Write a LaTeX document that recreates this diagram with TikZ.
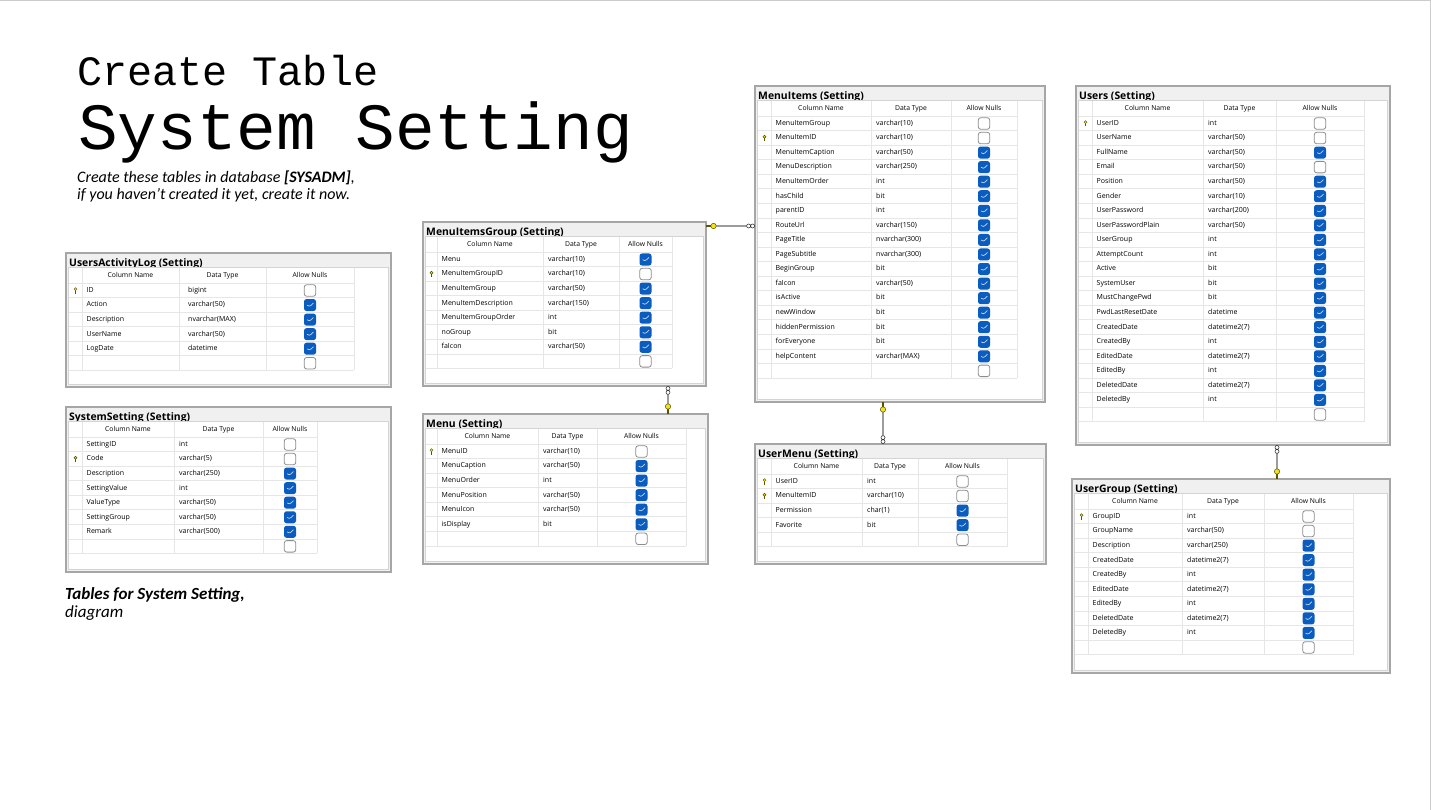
\documentclass[tikz,border=0pt]{standalone}
\usepackage{fontspec}
\setmainfont{Open Sans}
\newfontfamily\monofont{Liberation Mono}
\newfontfamily\calfont{Carlito}
\usetikzlibrary{calc}
\definecolor{frameC}{HTML}{A6A6A6}
\definecolor{titleBg}{HTML}{F0F0F0}
\definecolor{panelC}{HTML}{D4D4D4}
\definecolor{gridC}{HTML}{E6E6E6}
\definecolor{chkBlue}{HTML}{0B5CBF}
\definecolor{boxGray}{HTML}{8C8C8C}
\definecolor{keyY}{HTML}{F2E21B}
\definecolor{keyD}{HTML}{5A5300}
\definecolor{lineC}{HTML}{9C9C9C}
\tikzset{
  tblframe/.style={rectangle, draw=frameC, fill=titleBg, line width=1.4pt, inner sep=0pt, outer sep=0pt},
  tbltitle/.style={font=\bfseries\fontsize{10.4}{12}\selectfont, inner sep=0pt},
  gridline/.style={draw=gridC, line width=0.6pt},
  hdr/.style={font=\fontsize{6.8}{8}\selectfont, inner sep=0pt, text height=5.2pt, text depth=1.5pt},
  cell/.style={font=\fontsize{7}{8}\selectfont, inner sep=0pt, text height=5.3pt, text depth=1.6pt},
  chkon/.style={rectangle, rounded corners=2.5pt, minimum size=12pt, inner sep=0pt, fill=chkBlue,
    path picture={\draw[white!75!chkBlue, line width=0.7pt] ([shift={(-2.8,0.1)}]path picture bounding box.center) -- ++(2,2) -- ++(4.2,-4.2);}},
  chkoff/.style={rectangle, rounded corners=2.5pt, minimum size=11.5pt, inner sep=0pt, fill=white, draw=boxGray, line width=0.8pt},
  rel/.style={draw=lineC, line width=1.6pt},
  subtxt/.style={font=\calfont\itshape\fontsize{16}{19}\selectfont, anchor=base west, inner sep=0pt},
  captxt/.style={font=\calfont\itshape\fontsize{17}{19}\selectfont, anchor=base west, inner sep=0pt},
  rowkey/.pic={\filldraw[fill=keyY, draw=keyD, line width=0.4pt] (0,-1.3) circle (1.5); \draw[keyD, line width=0.7pt] (0,0.2) -- (0,3);},
  keyend/.pic={\draw[keyD, line width=1.3pt] (0,0) -- (5,0); \filldraw[fill=keyY, draw=keyD, line width=0.5pt] (7.5,0) circle (2.7);},
  manyend/.pic={\filldraw[fill=white, draw=black!80, line width=0.55pt] (2.4,0) circle (2) (6.4,0) circle (2);}
}
\newcommand\tabframe[6]{%
  \gdef\tid{#1}\gdef\tL{#2}\gdef\tT{#3}\gdef\tR{#4}\gdef\tB{#5}%
  \node[tblframe, minimum width={(#4-#2)*1pt}, minimum height={(#5-#3)*1pt}] (#1) at ({(#2+#4)/2},{(#3+#5)/2}) {};
  \node[tbltitle, anchor=base west] (#1-title) at ({#2+3},{#3+13.2}) {#6};
  \draw[fill=white, draw=panelC, line width=0.6pt] ({#2+2.5},{#3+14.5}) rectangle ({#4-2.5},{#5-2.5});
}
\newcommand\tabgrid[6]{%
  \gdef\cA{#1}\gdef\cB{#2}\gdef\cC{#3}\gdef\cD{#4}\gdef\tOff{#6}%
  \pgfmathsetmacro\gbot{\tT+30+(#5+1)*14.55}%
  \pgfmathtruncatemacro\nn{#5+1}%
  \foreach \xx in {#1,#2,#3,#4} {\draw[gridline] (\xx,{\tT+15}) -- (\xx,\gbot);}
  \foreach \ii in {0,...,\nn} {\draw[gridline] ({\tL+3},{\tT+30+\ii*14.55}) -- (#4,{\tT+30+\ii*14.55});}
  \node[hdr] (\tid-h1) at ({(#1+#2)/2},{\tT+22.5}) {Column Name};
  \node[hdr] (\tid-h2) at ({(#2+#3)/2},{\tT+22.5}) {Data Type};
  \node[hdr] (\tid-h3) at ({(#3+#4)/2},{\tT+22.5}) {Allow Nulls};
  \node[chkoff] (\tid-ce) at ({(#3+#4)/2},{\tT+37.5+#5*14.55}) {};
}
\newcommand\tabrows[1]{%
  \foreach \nm/\ty/\ck/\ky [count=\ii from 0] in {#1} {
    \pgfmathsetmacro\yy{\tT+37.5+\ii*14.55}
    \node[cell, anchor=west] (\tid-n\ii) at ({\cA+4.5},\yy) {\nm};
    \node[cell, anchor=west] (\tid-t\ii) at ({\cB+\tOff},\yy) {\ty};
    \ifnum\ck=1 \node[chkon] (\tid-c\ii) at ({(\cC+\cD)/2},\yy) {};
    \else \node[chkoff] (\tid-c\ii) at ({(\cC+\cD)/2},\yy) {}; \fi
    \ifnum\ky=1 \pic at ({(\tL+3+\cA)/2},\yy) {rowkey}; \fi
  }
}
\begin{document}
\begin{tikzpicture}[x=1pt, y=-1pt]
\fill[white] (0,0) rectangle (1431,810);
\useasboundingbox (0,0) rectangle (1431,810);
\draw[black!20, line width=0.8pt] (0,0.5) -- (1430.5,0.5) -- (1430.5,810);

% titles
\node[font=\monofont\fontsize{41.8}{42}\selectfont, anchor=base west, inner sep=0pt] (t1) at (77,86) {Create Table};
\node[font=\monofont\fontsize{66}{66}\selectfont, anchor=base west, inner sep=0pt] (t2) at (78,150) {System Setting};
\node[subtxt] (t3) at (77,183) {Create these tables in database \textbf{[SYSADM]},};
\node[subtxt] (t4) at (77,200) {if you haven’t created it yet, create it now.};
\node[captxt] (cap1) at (65,599) {\textbf{Tables for System Setting,}};
\node[captxt] (cap2) at (65,617) {diagram};

% UsersActivityLog
\tabframe{ual}{66}{253}{391}{387}{UsersActivityLog (Setting)}
\tabgrid{82}{179}{266}{354}{5}{9}
\tabrows{ID/bigint/0/1, Action/varchar(50)/1/0, Description/nvarchar(MAX)/1/0, UserName/varchar(50)/1/0, LogDate/datetime/1/0}

% SystemSetting
\tabframe{ss}{66}{407}{391}{572}{SystemSetting (Setting)}
\tabgrid{82}{174}{263}{317}{7}{5}
\tabrows{SettingID/int/0/0, Code/varchar(5)/0/1, Description/varchar(250)/1/0, SettingValue/int/1/0, ValueType/varchar(50)/1/0, SettingGroup/varchar(50)/1/0, Remark/varchar(500)/1/0}

% MenuItemsGroup
\tabframe{mig}{423}{222}{706}{386}{MenuItemsGroup (Setting)}
\tabgrid{437}{543}{619}{672}{7}{5}
\tabrows{Menu/varchar(10)/1/0, MenuItemGroupID/varchar(10)/0/1, MenuItemGroup/varchar(50)/1/0, MenuItemDescription/varchar(150)/1/0, MenuItemGroupOrder/int/1/0, noGroup/bit/1/0, faIcon/varchar(50)/1/0}

% Menu
\tabframe{menu}{423}{414}{708}{564}{Menu (Setting)}
\tabgrid{437}{538}{597}{686}{6}{5}
\tabrows{MenuID/varchar(10)/0/1, MenuCaption/varchar(50)/1/0, MenuOrder/int/1/0, MenuPosition/varchar(50)/1/0, MenuIcon/varchar(50)/1/0, isDisplay/bit/1/0}

% MenuItems
\tabframe{mi}{755}{86}{1045}{402}{MenuItems (Setting)}
\tabgrid{771}{871}{951}{1017}{17}{5}
\tabrows{MenuItemGroup/varchar(10)/0/0, MenuItemID/varchar(10)/0/1, MenuItemCaption/varchar(50)/1/0, MenuDescription/varchar(250)/1/0, MenuItemOrder/int/1/0, hasChild/bit/1/0, parentID/int/1/0, RouteUrl/varchar(150)/1/0, PageTitle/nvarchar(300)/1/0, PageSubtitle/nvarchar(300)/1/0, BeginGroup/bit/1/0, faIcon/varchar(50)/1/0, isActive/bit/1/0, newWindow/bit/1/0, hiddenPermission/bit/1/0, forEveryone/bit/1/0, helpContent/varchar(MAX)/1/0}

% UserMenu
\tabframe{um}{755}{444}{1046}{564}{UserMenu (Setting)}
\tabgrid{771}{862}{918}{1007}{4}{5}
\tabrows{UserID/int/0/1, MenuItemID/varchar(10)/0/1, Permission/char(1)/1/0, Favorite/bit/1/0}

% Users
\tabframe{users}{1076}{86}{1390}{445}{Users (Setting)}
\tabgrid{1092}{1203}{1276}{1364}{20}{5}
\tabrows{UserID/int/0/1, UserName/varchar(50)/0/0, FullName/varchar(50)/1/0, Email/varchar(50)/0/0, Position/varchar(50)/1/0, Gender/varchar(10)/1/0, UserPassword/varchar(200)/1/0, UserPasswordPlain/varchar(50)/1/0, UserGroup/int/1/0, AttemptCount/int/1/0, Active/bit/1/0, SystemUser/bit/1/0, MustChangePwd/bit/1/0, PwdLastResetDate/datetime/1/0, CreatedDate/datetime2(7)/1/0, CreatedBy/int/1/0, EditedDate/datetime2(7)/1/0, EditedBy/int/1/0, DeletedDate/datetime2(7)/1/0, DeletedBy/int/1/0}

% UserGroup
\tabframe{ug}{1072}{479}{1390}{673}{UserGroup (Setting)}
\tabgrid{1088}{1182}{1264}{1353}{9}{5}
\tabrows{GroupID/int/0/1, GroupName/varchar(50)/0/0, Description/varchar(250)/1/0, CreatedDate/datetime2(7)/1/0, CreatedBy/int/1/0, EditedDate/datetime2(7)/1/0, EditedBy/int/1/0, DeletedDate/datetime2(7)/1/0, DeletedBy/int/1/0}

% relationships
\coordinate (r1) at (0,226);
\coordinate (r2) at (668,0);
\coordinate (r3) at (883,0);
\coordinate (r4) at (1277,0);
\draw[rel] (mig.east |- r1) -- (mi.west |- r1);
\pic at (mig.east |- r1) {keyend};
\pic[rotate=180] at (mi.west |- r1) {manyend};
\draw[rel] (mig.south -| r2) -- (menu.north -| r2);
\pic[rotate=-90] at (mig.south -| r2) {manyend};
\pic[rotate=90] at (menu.north -| r2) {keyend};
\draw[rel] (mi.south -| r3) -- (um.north -| r3);
\pic[rotate=-90] at (mi.south -| r3) {keyend};
\pic[rotate=90] at (um.north -| r3) {manyend};
\draw[rel] (users.south -| r4) -- (ug.north -| r4);
\pic[rotate=-90] at (users.south -| r4) {manyend};
\pic[rotate=90] at (ug.north -| r4) {keyend};
\end{tikzpicture}
\end{document}
